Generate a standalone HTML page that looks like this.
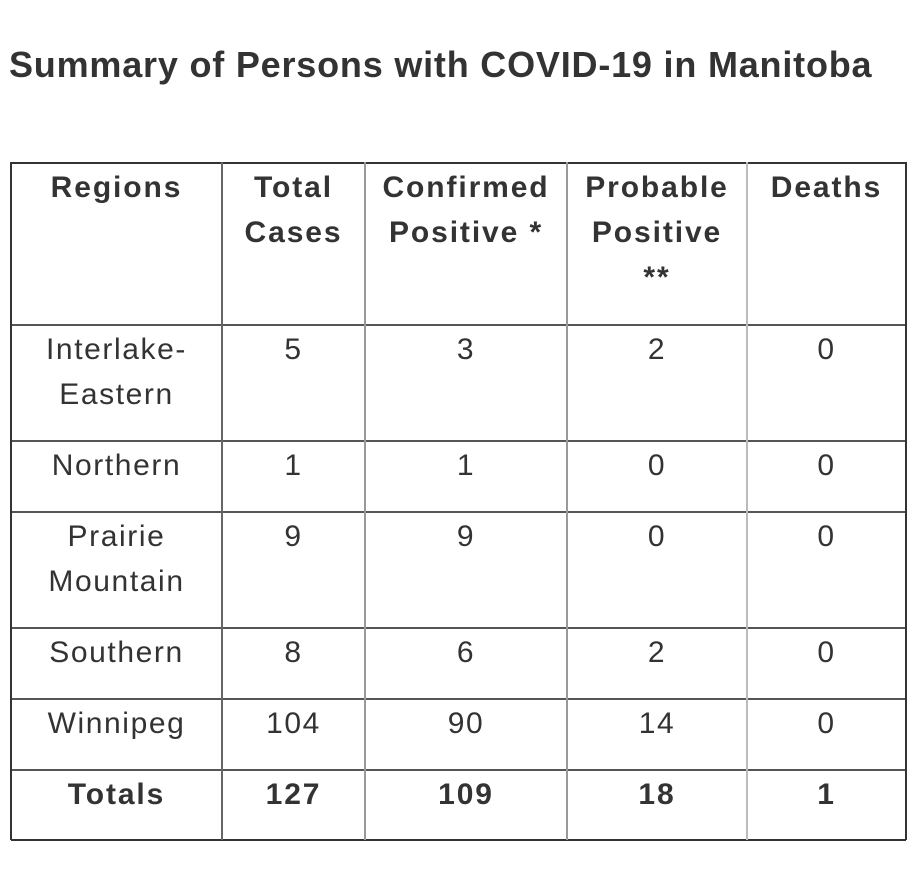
<!DOCTYPE html>
<html><head><style>
body{margin:0;width:912px;height:893px;background:#fff;position:relative;font-family:"Liberation Sans",sans-serif;color:#333;overflow:hidden}
.t{position:absolute;left:9px;top:44px;font-size:36px;line-height:42px;font-weight:bold;color:#333;letter-spacing:0.8px;white-space:nowrap}
.h{position:absolute;height:1.5px;background:#555;left:11px;width:895px}
.v{position:absolute;width:1.5px;background:#999;top:162px;height:678px}
.c{position:absolute;text-align:center;font-size:30px;line-height:45px;color:#333;letter-spacing:1.6px}
.b{font-weight:bold;font-size:30px;letter-spacing:1.9px}
</style></head><body>
<div class="t">Summary of Persons with COVID-19 in Manitoba</div>
<div class="h" style="top:162px;background:#333;height:2px"></div>
<div class="h" style="top:324px"></div>
<div class="h" style="top:440px"></div>
<div class="h" style="top:511px"></div>
<div class="h" style="top:627px"></div>
<div class="h" style="top:698px"></div>
<div class="h" style="top:769px"></div>
<div class="h" style="top:839px;background:#333;height:2px"></div>
<div class="v" style="left:10px;background:#333;width:2px"></div>
<div class="v" style="left:221px;background:#666"></div>
<div class="v" style="left:364px"></div>
<div class="v" style="left:566px"></div>
<div class="v" style="left:746px;background:#bbb"></div>
<div class="v" style="left:905px;background:#333;width:2px"></div>

<div class="c b" style="left:12px;width:209px;top:165px">Regions</div>
<div class="c b" style="left:223px;width:141px;top:165px">Total<br>Cases</div>
<div class="c b" style="left:366px;width:200px;top:165px">Confirmed<br>Positive *</div>
<div class="c b" style="left:568px;width:178px;top:165px">Probable<br>Positive<br>**</div>
<div class="c b" style="left:748px;width:157px;top:165px">Deaths</div>

<div class="c" style="left:12px;width:209px;top:327px">Interlake-<br>Eastern</div>
<div class="c" style="left:223px;width:141px;top:327px">5</div>
<div class="c" style="left:366px;width:200px;top:327px">3</div>
<div class="c" style="left:568px;width:178px;top:327px">2</div>
<div class="c" style="left:748px;width:157px;top:327px">0</div>

<div class="c" style="left:12px;width:209px;top:443px">Northern</div>
<div class="c" style="left:223px;width:141px;top:443px">1</div>
<div class="c" style="left:366px;width:200px;top:443px">1</div>
<div class="c" style="left:568px;width:178px;top:443px">0</div>
<div class="c" style="left:748px;width:157px;top:443px">0</div>

<div class="c" style="left:12px;width:209px;top:514px">Prairie<br>Mountain</div>
<div class="c" style="left:223px;width:141px;top:514px">9</div>
<div class="c" style="left:366px;width:200px;top:514px">9</div>
<div class="c" style="left:568px;width:178px;top:514px">0</div>
<div class="c" style="left:748px;width:157px;top:514px">0</div>

<div class="c" style="left:12px;width:209px;top:630px">Southern</div>
<div class="c" style="left:223px;width:141px;top:630px">8</div>
<div class="c" style="left:366px;width:200px;top:630px">6</div>
<div class="c" style="left:568px;width:178px;top:630px">2</div>
<div class="c" style="left:748px;width:157px;top:630px">0</div>

<div class="c" style="left:12px;width:209px;top:701px">Winnipeg</div>
<div class="c" style="left:223px;width:141px;top:701px">104</div>
<div class="c" style="left:366px;width:200px;top:701px">90</div>
<div class="c" style="left:568px;width:178px;top:701px">14</div>
<div class="c" style="left:748px;width:157px;top:701px">0</div>

<div class="c b" style="left:12px;width:209px;top:772px">Totals</div>
<div class="c b" style="left:223px;width:141px;top:772px">127</div>
<div class="c b" style="left:366px;width:200px;top:772px">109</div>
<div class="c b" style="left:568px;width:178px;top:772px">18</div>
<div class="c b" style="left:748px;width:157px;top:772px">1</div>
</body></html>
